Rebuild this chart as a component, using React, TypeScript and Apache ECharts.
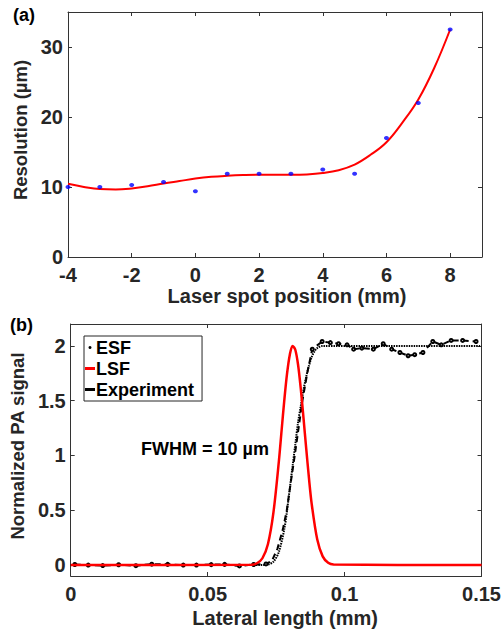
import React, { useEffect, useRef } from 'react';
import * as echarts from 'echarts';

// Panel (a)
const spotPos = [-4, -3, -2, -1, 0, 1, 2, 3, 4, 5, 6, 7, 8];
const resolution = [10.0, 10.0, 10.3, 10.7, 9.4, 11.9, 11.9, 11.9, 12.5, 11.9, 17.0, 22.0, 32.5];
const fitPos = [-4, -3.5, -3, -2.5, -2, -1.5, -1, -0.5, 0, 0.5, 1, 1.5, 2, 2.5, 3, 3.5, 4, 4.5, 5, 5.5, 6, 6.5, 7, 7.5, 8];
const fitRes = [10.45, 10.0, 9.7, 9.65, 9.8, 10.1, 10.5, 10.85, 11.2, 11.45, 11.6, 11.7, 11.75, 11.75, 11.75, 11.8, 12.0, 12.4, 13.2, 14.6, 16.4, 19.2, 22.5, 27.0, 32.5];
const xTicksA = [-4, -2, 0, 2, 4, 6, 8];
const yTicksA = [0, 10, 20, 30];

// Panel (b)
const lsfX = [0, 0.066, 0.068, 0.07, 0.072, 0.074, 0.076, 0.077, 0.078, 0.079, 0.08, 0.081, 0.082, 0.083, 0.084, 0.085, 0.086, 0.087, 0.088, 0.09, 0.092, 0.094, 0.096, 0.15];
const lsfY = [0, 0.003, 0.016, 0.062, 0.19, 0.476, 0.946, 1.228, 1.507, 1.749, 1.92, 2.0, 1.965, 1.83, 1.61, 1.34, 1.06, 0.79, 0.556, 0.235, 0.079, 0.021, 0.005, 0];
const esfX = [0, 0.07, 0.072, 0.074, 0.076, 0.078, 0.079, 0.08, 0.081, 0.082, 0.083, 0.084, 0.085, 0.086, 0.087, 0.088, 0.089, 0.09, 0.092, 0.15];
const esfY = [0, 0, 0.005, 0.03, 0.12, 0.33, 0.5, 0.7, 0.9, 1.1, 1.3, 1.45, 1.6, 1.72, 1.82, 1.9, 1.95, 1.98, 2.0, 2.0];
const expX = [0.0015, 0.0064, 0.0117, 0.0175, 0.0238, 0.0296, 0.0354, 0.0411, 0.0459, 0.0513, 0.0562, 0.0616, 0.0668, 0.0713,
  0.0735, 0.0755, 0.0775, 0.0789, 0.0805, 0.0818, 0.0832, 0.0846, 0.0865,
  0.0882, 0.0918, 0.0948, 0.0978, 0.1009, 0.1033, 0.1063, 0.1105, 0.1141, 0.1172, 0.1202, 0.1232, 0.1256, 0.1286, 0.1322, 0.1353, 0.1389, 0.1431, 0.148];
const expY = [0.005, 0.0, -0.005, 0.003, -0.006, 0.008, 0.006, 0.0, 0.0, 0.004, 0.006, -0.008, 0.005, 0.01,
  0.04, 0.15, 0.33, 0.5, 0.78, 1.0, 1.25, 1.5, 1.77,
  1.97, 2.04, 2.03, 2.02, 2.01, 1.97, 1.98, 1.97, 2.02, 1.97, 1.94, 1.91, 1.92, 1.94, 2.04, 2.01, 2.05, 2.05, 2.04];
const expMarked = [1, 1, 1, 1, 1, 1, 1, 1, 1, 1, 1, 1, 1, 1, 0, 0, 0, 0, 0, 0, 0, 0, 0,
  1, 1, 1, 1, 1, 1, 1, 1, 1, 1, 1, 1, 1, 1, 1, 1, 1, 1, 1];
const xTicksB = [0, 0.05, 0.1, 0.15];
const yTicksB = [0, 0.5, 1, 1.5, 2];

const FONT = 'Liberation Sans, Arial, Helvetica, sans-serif';
const TXT = '#262626';
const AX = '#333333';

function axisPair(grid: number, kind: 'x' | 'y', min: number, max: number, ticks: number[], name: string, nameGap: number, nameSize: number, namePad: number[]) {
  const common = {
    gridIndex: grid,
    type: 'value' as const,
    min,
    max,
    splitLine: { show: false },
    axisLine: { show: true, onZero: false, lineStyle: { color: AX, width: 1 } },
    axisTick: { show: true, inside: true, length: 4, customValues: ticks, lineStyle: { color: AX } },
  };
  const main = {
    ...common,
    position: kind === 'x' ? 'bottom' : 'left',
    axisLabel: {
      customValues: ticks,
      fontFamily: FONT,
      fontWeight: 'bold',
      fontSize: 20,
      color: TXT,
      margin: kind === 'x' ? 8 : 5,
    },
    name,
    nameLocation: 'middle',
    nameGap,
    nameTextStyle: { fontFamily: FONT, fontWeight: 'bold', fontSize: nameSize, color: TXT, padding: namePad },
  };
  const second = {
    ...common,
    position: kind === 'x' ? 'top' : 'right',
    axisLabel: { show: false },
  };
  return [main, second];
}

export default function App() {
  const ref = useRef<HTMLDivElement>(null);
  useEffect(() => {
    if (!ref.current) return;
    const chart = echarts.init(ref.current, undefined, { renderer: 'svg' });
    const option: any = {
      animation: false,
      backgroundColor: '#ffffff',
      grid: [
        { left: 68, top: 12, width: 414, height: 245, show: false },
        { left: 68, top: 324, width: 414, height: 252, show: false },
      ],
      xAxis: [
        ...axisPair(0, 'x', -4, 9, xTicksA, 'Laser spot position (mm)', 28, 20, [0, 0, 0, 24]),
        ...axisPair(1, 'x', 0, 0.15, xTicksB, 'Lateral length (mm)', 32, 20, [0, 0, 0, 18]),
      ],
      yAxis: [
        ...axisPair(0, 'y', 0, 35, yTicksA, 'Resolution (µm)', 36, 18.5, [0, 0, 0, 9]),
        ...axisPair(1, 'y', -0.1, 2.2, yTicksB, 'Normalized PA signal', 33, 18.5, [0, 0, 0, 8]),
      ],
      legend: {
        orient: 'vertical',
        left: 84,
        top: 336,
        data: [
          { name: 'ESF', icon: 'circle' },
          { name: 'LSF', icon: 'rect' },
          { name: 'Experiment', icon: 'rect' },
        ],
        itemWidth: 10,
        itemHeight: 3,
        itemGap: 2,
        selectedMode: false,
        borderColor: TXT,
        borderWidth: 1,
        borderRadius: 0,
        padding: [2, 8, 2, 1],
        backgroundColor: '#ffffff',
        textStyle: { fontFamily: FONT, fontWeight: 'bold', fontSize: 18, color: '#000', lineHeight: 19, padding: [0, 0, 0, -4] },
      },
      graphic: [
        { type: 'text', left: 13, top: 6, style: { text: '(a)', font: `bold 18px ${FONT}`, fill: '#000' } },
        { type: 'text', left: 10, top: 316, style: { text: '(b)', font: `bold 18px ${FONT}`, fill: '#000' } },
        { type: 'text', left: 141, top: 440, style: { text: 'FWHM = 10 µm', font: `bold 18px ${FONT}`, fill: '#000' } },
      ],
      series: [
        {
          name: 'Fit',
          type: 'line',
          xAxisIndex: 0,
          yAxisIndex: 0,
          data: fitPos.map((x, i) => [x, fitRes[i]]),
          smooth: 0.4,
          showSymbol: false,
          lineStyle: { color: '#ff0000', width: 2 },
          itemStyle: { color: '#ff0000' },
          z: 2,
        },
        {
          name: 'Measured',
          type: 'scatter',
          xAxisIndex: 0,
          yAxisIndex: 0,
          data: spotPos.map((x, i) => [x, resolution[i]]),
          symbol: 'circle',
          symbolSize: [5, 4],
          itemStyle: { color: '#0000ff' },
          z: 3,
        },
        {
          name: 'ESF',
          type: 'line',
          xAxisIndex: 2,
          yAxisIndex: 2,
          data: esfX.map((x, i) => [x, esfY[i]]),
          smooth: 0.3,
          showSymbol: false,
          lineStyle: { color: '#000000', width: 2, type: [1.5, 1] },
          itemStyle: { color: '#000000' },
          z: 2,
        },
        {
          name: 'Experiment',
          type: 'line',
          xAxisIndex: 2,
          yAxisIndex: 2,
          data: expX.map((x, i) => ({
            value: [x, expY[i]],
            symbol: expMarked[i] ? 'emptyCircle' : 'none',
          })),
          symbolSize: 3,
          showSymbol: true,
          lineStyle: { color: '#000000', width: 2, type: [6, 4] },
          itemStyle: { color: '#000000', borderWidth: 1 },
          z: 3,
        },
        {
          name: 'LSF',
          type: 'line',
          xAxisIndex: 2,
          yAxisIndex: 2,
          data: lsfX.map((x, i) => [x, lsfY[i]]),
          smooth: 0.3,
          showSymbol: false,
          lineStyle: { color: '#ff0000', width: 2.5 },
          itemStyle: { color: '#ff0000' },
          z: 4,
        },
      ],
    };
    chart.setOption(option);
    return () => chart.dispose();
  }, []);
  return (
    <div
      ref={ref}
      style={{ position: 'fixed', left: 0, top: 0, width: 504, height: 634, background: '#fff' }}
    />
  );
}
